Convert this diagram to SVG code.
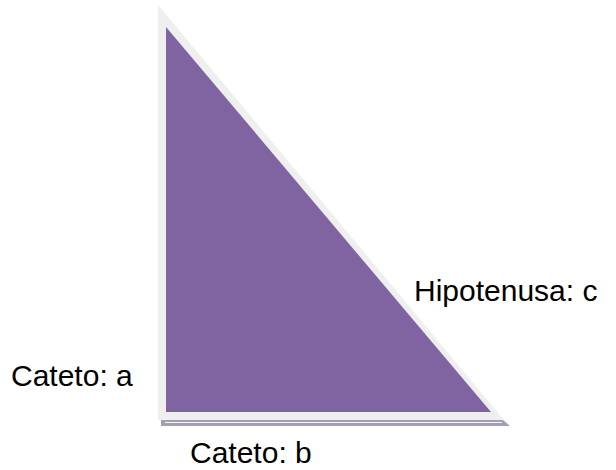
<svg xmlns="http://www.w3.org/2000/svg" width="616" height="470" viewBox="0 0 616 470">
<style>
.lbl{font-family:"Liberation Sans",Arial,sans-serif;font-size:30px;fill:#000}
</style>
<rect width="616" height="470" fill="#fff"/>
<g id="triangle">
<polygon points="161,420 503,420 510,426 161,426" fill="#a59db6"/>
<line x1="165" y1="422.5" x2="502" y2="422.5" stroke="#f4f2f7" stroke-width="1"/>
<polygon points="158,5 158,420 504,420" fill="#efefef"/>
<polygon points="166,27 166,412 491,412" fill="#8064a2"/>
</g>
<g id="label-a"><text class="lbl" x="11" y="386">Cateto: a</text></g>
<g id="label-b"><text class="lbl" x="190" y="463">Cateto: b</text></g>
<g id="label-c"><text class="lbl" x="414" y="301">Hipotenusa: c</text></g>
</svg>
